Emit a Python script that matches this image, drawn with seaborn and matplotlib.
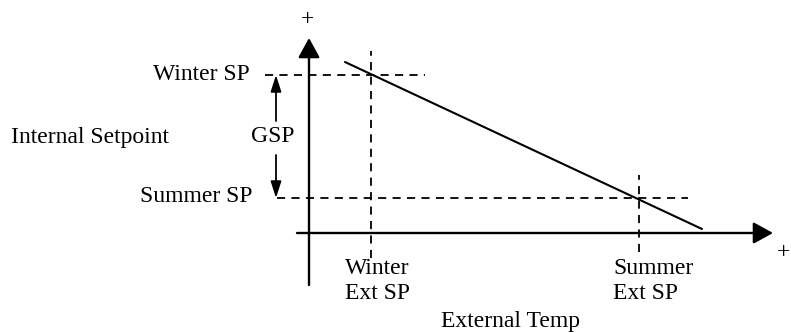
import matplotlib
matplotlib.use('Agg')
import matplotlib.pyplot as plt
import seaborn as sns
import pandas as pd

# 示意图数据 (单位任意, 原点为两轴交点)
ext_temp_labels = ['Winter\nExt SP', 'Summer\nExt SP']
ext_temp_sp = [6.2, 33.0]        # 外部温度设定点
int_sp_labels = ['Winter SP', 'Summer SP']
int_sp = [15.8, 3.5]             # 内部设定点
curve_x = [3.6, 39.3]            # 补偿曲线
curve_y = [17.1, 0.4]

sns.set_theme(style='white')
plt.rcParams['font.family'] = ['Liberation Serif', 'DejaVu Serif']
plt.rcParams['text.color'] = 'black'
fs = 17

fig = plt.figure(figsize=(7.91, 3.33), dpi=100)
ax = fig.add_axes([0, 0, 1, 1])
ax.set_xlim(-30.9, 48.2)
ax.set_ylim(-10, 23.3)
ax.axis('off')

# 坐标轴箭头
ax.annotate('', xy=(0, 19.5), xytext=(0, -5.2),
            arrowprops=dict(arrowstyle='-|>,head_length=0.4,head_width=0.22',
                            mutation_scale=30, lw=1.7, color='black', shrinkA=0, shrinkB=0))
ax.annotate('', xy=(46.4, 0), xytext=(-1.2, 0),
            arrowprops=dict(arrowstyle='-|>,head_length=0.4,head_width=0.22',
                            mutation_scale=30, lw=1.7, color='black', shrinkA=0, shrinkB=0))
ax.text(-0.2, 21.3, '+', fontsize=fs, ha='center', va='center')
ax.text(47.5, -2.0, '+', fontsize=fs, ha='center', va='center')

# 虚线
dash = dict(color='black', lw=1.3, linestyles=(0, (4.5, 3.5)))
ax.hlines(int_sp[0], -4.4, 11.6, **dash)
ax.hlines(int_sp[1], -3.2, 37.9, **dash)
ax.vlines(ext_temp_sp[0], -2.5, 18.2, **dash)
ax.vlines(ext_temp_sp[1], -1.9, 5.8, **dash)

# 补偿曲线
df = pd.DataFrame({'ext': curve_x, 'int': curve_y})
sns.lineplot(data=df, x='ext', y='int', ax=ax, color='black', lw=1.5)

# GSP 双向箭头
small = dict(arrowstyle='-|>,head_length=0.5,head_width=0.16', mutation_scale=20,
             lw=1.3, color='black', shrinkA=0, shrinkB=0)
ax.annotate('', xy=(-3.3, int_sp[0]), xytext=(-3.3, 11.2), arrowprops=small)
ax.annotate('', xy=(-3.3, int_sp[1]), xytext=(-3.3, 7.8), arrowprops=small)
ax.text(-3.6, 9.7, 'GSP', fontsize=fs, ha='center', va='center')

# 文字标签
ax.text(-5.9, int_sp[0], int_sp_labels[0], fontsize=fs, ha='right', va='center')
ax.text(-5.6, int_sp[1] + 0.2, int_sp_labels[1], fontsize=fs, ha='right', va='center')
ax.text(-29.8, 9.6, 'Internal Setpoint', fontsize=fs, ha='left', va='center')
for xv, lab in zip(ext_temp_sp, ext_temp_labels):
    ax.text(xv - 2.6, -2.5, lab, fontsize=fs, ha='left', va='top', linespacing=1.25)
ax.text(13.2, -8.9, 'External Temp', fontsize=fs, ha='left', va='center')

ax.set_xlabel('')
ax.set_ylabel('')
fig.savefig('out.png', dpi=100)
